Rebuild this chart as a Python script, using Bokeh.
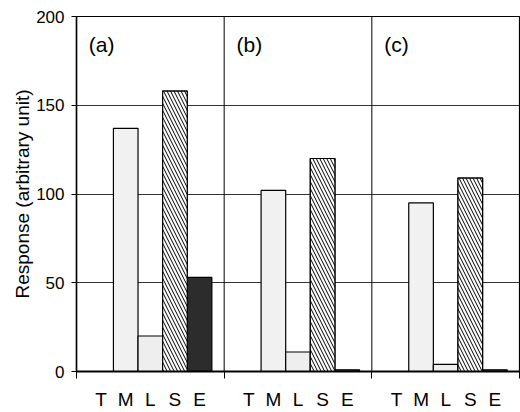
from bokeh.plotting import figure
from bokeh.models import FixedTicker, Span, ColumnDataSource, Range1d
from bokeh.core.properties import value
from bokeh.embed import file_html
from bokeh.resources import INLINE

# ---- data ----
categories = ["T", "M", "L", "S", "E"]
panels = ["(a)", "(b)", "(c)"]
values_a = [0, 137, 20, 158, 53]
values_b = [0, 102, 11, 120, 1]
values_c = [0, 95, 4, 109, 1]
y_ticks = [0, 50, 100, 150, 200]
y_label = "Response (arbitrary unit)"

series = [values_a, values_b, values_c]
slots = len(categories) + 1
n_total = slots * len(panels)

# styles per category
fills = {"T": "white", "M": "#f1f1f1", "L": "#eeeeee", "S": "white", "E": "#2c2c2c"}
hatched = {"S"}

FONT = "Liberation Sans"

p = figure(width=520, height=412, output_backend="svg", toolbar_location=None,
           x_range=Range1d(0, n_total), y_range=Range1d(0, 200),
           min_border_left=76, min_border_right=1, min_border_top=16,
           min_border_bottom=40)

xs, tops, cols, labs = [], [], [], []
for k, vals in enumerate(series):
    for i, (c, v) in enumerate(zip(categories, vals)):
        xs.append(k * slots + i + 1)
        tops.append(v)
        cols.append(fills[c])
        labs.append(c)

src = ColumnDataSource(dict(x=xs, top=tops, color=cols, cat=labs))
p.vbar(x="x", top="top", width=1, bottom=0, source=src,
       fill_color="color", line_color="black", line_width=1.2)

hsrc = ColumnDataSource(dict(
    x=[x for x, c in zip(xs, labs) if c in hatched],
    top=[t for t, c in zip(tops, labs) if c in hatched]))
p.vbar(x="x", top="top", width=1, bottom=0, source=hsrc,
       fill_color="white", line_color="black", line_width=1.2,
       hatch_pattern="left_diagonal_line", hatch_color="black",
       hatch_scale=7, hatch_weight=1)

for k in range(1, len(panels)):
    p.add_layout(Span(location=k * slots, dimension="height",
                      line_color="black", line_width=1))

p.text(x=[k * slots + 0.5 for k in range(len(panels))],
       y=[184] * len(panels), text=panels,
       text_font=value(FONT), text_font_size="21px",
       text_align="left", text_baseline="middle", text_color="black")

p.xaxis.ticker = FixedTicker(ticks=xs,
                             minor_ticks=[k * slots for k in range(len(panels) + 1)])
p.xaxis.major_label_overrides = {x: c for x, c in zip(xs, labs)}
p.xaxis.major_tick_line_color = None
p.xaxis.major_tick_out = 0
p.xaxis.major_tick_in = 0
p.xaxis.minor_tick_line_color = "black"
p.xaxis.minor_tick_out = 7
p.xaxis.minor_tick_in = 0
p.xaxis.major_label_standoff = 10
p.xaxis.major_label_text_font = FONT
p.xaxis.major_label_text_font_size = "19px"
p.xaxis.major_label_text_color = "black"
p.xaxis.axis_line_color = "black"
p.xaxis.axis_line_width = 2

p.yaxis.ticker = FixedTicker(ticks=y_ticks, minor_ticks=[])
p.yaxis.major_tick_out = 5
p.yaxis.major_tick_in = 0
p.yaxis.major_tick_line_color = "black"
p.yaxis.major_label_standoff = 7
p.yaxis.major_label_text_font = FONT
p.yaxis.major_label_text_font_size = "17px"
p.yaxis.major_label_text_color = "black"
p.yaxis.axis_line_color = "black"
p.yaxis.axis_line_width = 1.5
p.yaxis.axis_label = y_label
p.yaxis.axis_label_text_font = FONT
p.yaxis.axis_label_text_font_size = "19px"
p.yaxis.axis_label_text_font_style = "normal"
p.yaxis.axis_label_text_color = "black"
p.yaxis.axis_label_standoff = 0

p.xgrid.grid_line_color = None
p.ygrid.ticker = FixedTicker(ticks=y_ticks)
p.ygrid.grid_line_color = "#333333"
p.ygrid.grid_line_width = 1

p.outline_line_color = "black"
p.outline_line_width = 1.2
p.outline_line_alpha = 1
p.background_fill_color = "white"
p.border_fill_color = "white"

open("out.html", "w").write(file_html(p, INLINE))
